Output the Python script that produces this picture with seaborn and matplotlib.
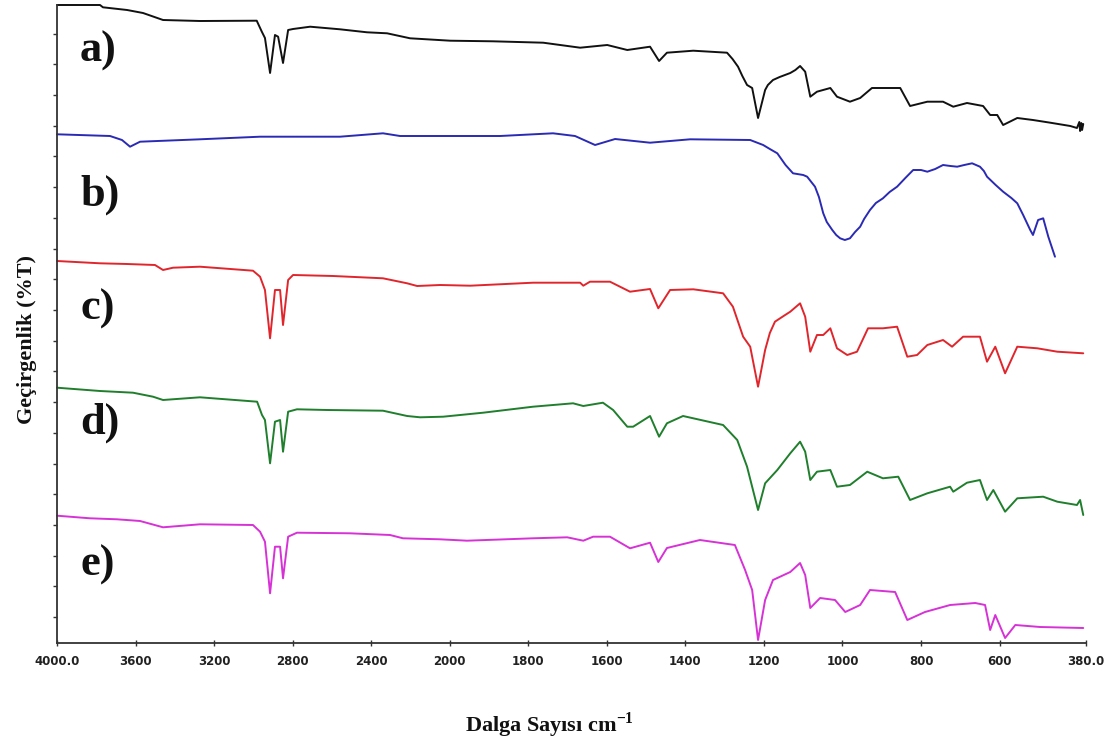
import numpy as np
import pandas as pd
import matplotlib
matplotlib.use("Agg")
import matplotlib.pyplot as plt
import seaborn as sns

# FTIR spectra (wavenumber in cm-1, offset transmittance)
wn_a = [4000, 3781, 3766, 3643, 3562, 3460, 3272, 2983, 2957, 2941, 2915, 2890, 2874, 2849,
        2823, 2798, 2711, 2559, 2421, 2319, 2202, 1999, 1890, 1762, 1668, 1599, 1548, 1490,
        1467, 1447, 1380, 1294, 1280, 1266, 1255, 1243, 1230, 1215, 1197, 1190, 1177, 1160,
        1133, 1120, 1108, 1095, 1082, 1065, 1031, 1014, 981, 955, 925, 853, 828, 784, 744,
        718, 683, 642, 624, 606, 591, 555, 515, 471, 420, 403, 397, 395, 392, 390, 387]
t_a = [638, 638, 635.7, 633, 630, 623, 622, 622.3, 611.3, 605, 570, 608, 606.3, 580,
       613, 614, 616.3, 613.7, 610.7, 609.7, 604.7, 602.3, 601.7, 600.3, 595.3, 598, 593, 596.3,
       582, 590.3, 592.3, 590.3, 584, 576.3, 567, 558, 555, 525, 553, 558, 563, 566,
       570, 573, 577, 571.3, 546.3, 551.3, 555, 546.3, 541.3, 545, 555, 555, 537, 541.3, 541.3,
       536.3, 540, 537, 528, 528, 518, 525, 523, 520.3, 517, 515, 521, 512, 520, 513, 519]

wn_b = [4000, 3730, 3669, 3628, 3577, 3272, 2966, 2559, 2340, 2253, 1872, 1737, 1681, 1630,
        1579, 1490, 1388, 1235, 1202, 1185, 1166, 1145, 1126, 1100, 1090, 1070, 1060, 1049,
        1040, 1026, 1016, 1006, 994, 981, 968, 955, 945, 930, 915, 897, 880, 861, 840, 820,
        800, 784, 764, 744, 725, 708, 690, 670, 660, 650, 640, 632, 610, 591, 570, 555, 540,
        522, 515, 502, 489, 476, 459]
t_b = [508.7, 507, 503, 496.3, 501.3, 503.7, 506.3, 506.3, 509.7, 507, 507, 509.7, 507, 498,
       504, 500.3, 503.7, 503, 498, 494, 489.7, 478, 469.7, 468, 466.3, 456.3, 446, 429.7,
       421, 413, 408, 404.7, 403, 404.7, 411, 416.3, 424, 433, 440, 444.7, 451, 456.3, 465, 473,
       473, 471.3, 474, 478, 477, 476.3, 478, 479.7, 478, 476.3, 472, 466.3, 458, 451.3, 445,
       439.7, 428, 413, 408, 423, 424.7, 406.3, 386.3]

wn_c = [4000, 3781, 3643, 3501, 3460, 3409, 3272, 3002, 2966, 2941, 2915, 2890, 2864, 2849,
        2823, 2798, 2594, 2340, 2217, 2166, 2049, 1948, 1788, 1668, 1660, 1643, 1592, 1541,
        1490, 1469, 1439, 1380, 1304, 1279, 1253, 1235, 1215, 1197, 1185, 1172, 1150, 1133,
        1108, 1095, 1082, 1065, 1049, 1031, 1014, 988, 963, 935, 897, 861, 835, 810, 784, 744,
        721, 693, 650, 632, 611, 586, 555, 504, 453, 387]
t_c = [382, 379.7, 379, 378, 373, 375.3, 376.3, 372.3, 366.3, 353, 304.7, 353, 353, 318,
       363, 368, 367, 364.7, 359.7, 357, 358, 357.3, 360.3, 360.3, 357.3, 361.3, 361.3, 351.3,
       354, 334.7, 353, 353.7, 349.7, 336.3, 306.3, 296.3, 256.3, 293, 310, 321.3, 327, 331.3,
       339.7, 326.3, 291.3, 308, 308, 314.7, 294.7, 288, 291.3, 314.7, 314.7, 316.3, 286.3, 288,
       298, 303, 296.3, 306.3, 306.3, 281.3, 296.3, 269.7, 296.3, 294.7, 291.3, 289.7]

wn_d = [4000, 3781, 3613, 3511, 3460, 3272, 2981, 2956, 2941, 2915, 2890, 2864, 2849, 2823,
        2778, 2625, 2340, 2217, 2151, 2034, 1915, 1788, 1686, 1660, 1610, 1584, 1548, 1533,
        1490, 1467, 1447, 1406, 1304, 1268, 1243, 1215, 1197, 1166, 1133, 1108, 1095, 1082,
        1065, 1031, 1014, 981, 937, 897, 858, 828, 784, 726, 718, 683, 650, 632, 616, 586, 555,
        489, 453, 403, 395, 387]
t_d = [255.3, 252, 250.3, 246.3, 243, 245.7, 241.3, 228, 223, 179.7, 221.3, 223, 191.3, 231.3,
       233.7, 233, 232.3, 227, 225.7, 226.3, 230.3, 236.3, 239.7, 237, 240.3, 233, 216.3, 216.3,
       227, 206.3, 219.7, 227, 218, 203, 176.3, 133, 159.7, 173, 189.7, 201.3, 191.3, 163,
       171.3, 173, 156.3, 158, 171.3, 164.7, 166.3, 143, 149.7, 156.3, 151.3, 160.3, 163, 143, 153,
       131.3, 144.7, 146.3, 141.3, 138, 143, 128]

wn_e = [4000, 3832, 3694, 3577, 3460, 3272, 3002, 2966, 2941, 2915, 2890, 2864, 2849, 2823,
        2778, 2508, 2304, 2238, 2049, 1956, 1788, 1701, 1660, 1635, 1592, 1541, 1490, 1469,
        1447, 1363, 1274, 1248, 1230, 1215, 1197, 1177, 1133, 1108, 1095, 1082, 1057, 1019,
        993, 955, 930, 866, 835, 790, 726, 662, 637, 624, 611, 586, 560, 497, 387]
t_e = [127.3, 124.7, 123.7, 122, 115.7, 118.7, 118, 111.3, 101.3, 49.7, 96.3, 96.3, 64.7, 106.3,
       110.3, 109.7, 108, 104.7, 103.7, 102.3, 104.7, 105.7, 102.3, 106.3, 106.3, 94.7, 100.3, 81,
       95, 103, 98, 73, 53, 3, 43, 63, 71, 80, 68, 35, 45, 43,
       31, 38, 53, 51, 23, 31, 38, 40, 38, 13, 28, 5, 18, 16, 15]

samples = ["a)", "b)", "c)", "d)", "e)"]
colors = ["#111111", "#2a2ab4", "#e0262c", "#1f7f2c", "#d632d6"]
x_ticks = [4000, 3600, 3200, 2800, 2400, 2000, 1800, 1600, 1400, 1200, 1000, 800, 600, 380]
x_tick_labels = ["4000.0", "3600", "3200", "2800", "2400", "2000", "1800", "1600",
                 "1400", "1200", "1000", "800", "600", "380.0"]

frames = []
for name, wn, t in zip(samples, [wn_a, wn_b, wn_c, wn_d, wn_e], [t_a, t_b, t_c, t_d, t_e]):
    frames.append(pd.DataFrame({"wavenumber": wn, "T": t, "sample": name}))
df = pd.concat(frames, ignore_index=True)

sns.set_theme(style="white")
plt.rcParams["font.family"] = ["DejaVu Sans"]
plt.rcParams["mathtext.fontset"] = "custom"
plt.rcParams["mathtext.rm"] = "Liberation Serif"
plt.rcParams["mathtext.bf"] = "Liberation Serif:bold"

fig = plt.figure(figsize=(11.08, 7.42), dpi=100)
ax = fig.add_axes([57 / 1108, 1 - 643 / 742, 1029 / 1108, 638 / 742])


# instrument-style axis: half scale above 2000 cm-1
def fwd(x):
    x = np.asarray(x, dtype=float)
    return np.where(x <= 2000, x, 2000 + (x - 2000) / 2)


def inv(y):
    y = np.asarray(y, dtype=float)
    return np.where(y <= 2000, y, 2000 + 2 * (y - 2000))


ax.set_xscale("function", functions=(fwd, inv))

sns.lineplot(data=df, x="wavenumber", y="T", hue="sample", palette=colors,
             sort=False, estimator=None, legend=False, lw=1.4, ax=ax)
for line in ax.get_lines():
    line.set_clip_on(False)
    line.set_solid_joinstyle("round")

ax.set_xlim(4000, 380)
ax.set_ylim(0, 638)
ax.set_xticks(x_ticks)
ax.set_xticklabels(x_tick_labels)
ax.xaxis.set_minor_locator(matplotlib.ticker.NullLocator())
ax.set_yticks(np.arange(26, 638, 30.7))
ax.set_yticklabels([])
ax.tick_params(axis="x", direction="inout", length=5, width=1, colors="#333333",
               labelsize=8.5, pad=6, bottom=True)
ax.tick_params(axis="y", direction="out", length=3, width=1, colors="#333333", left=True)
for lab in ax.get_xticklabels():
    lab.set_fontweight("bold")
    lab.set_color("#222222")

sns.despine(ax=ax)
for side in ["left", "bottom"]:
    ax.spines[side].set_color("#333333")
    ax.spines[side].set_linewidth(1.3)

ax.set_xlabel(r"Dalga Sayısı cm$^{\mathbf{-1}}$", family="Liberation Serif",
              fontweight="bold", fontsize=16, color="#111111")
ax.xaxis.set_label_coords(0.479, -0.105)
ax.set_ylabel("Geçirgenlik (%T)", family="Liberation Serif", fontweight="bold",
              fontsize=16, color="#111111")
ax.yaxis.set_label_coords(-0.0194, 0.475)

label_y = [0.929, 0.702, 0.5235, 0.345, 0.122]
for name, yy in zip(samples, label_y):
    ax.text(0.0224, yy, name, transform=ax.transAxes, ha="left", va="center",
            family="Liberation Serif", fontweight="bold", fontsize=32, color="#111111")

fig.savefig("out.png", dpi=100, facecolor="white")
